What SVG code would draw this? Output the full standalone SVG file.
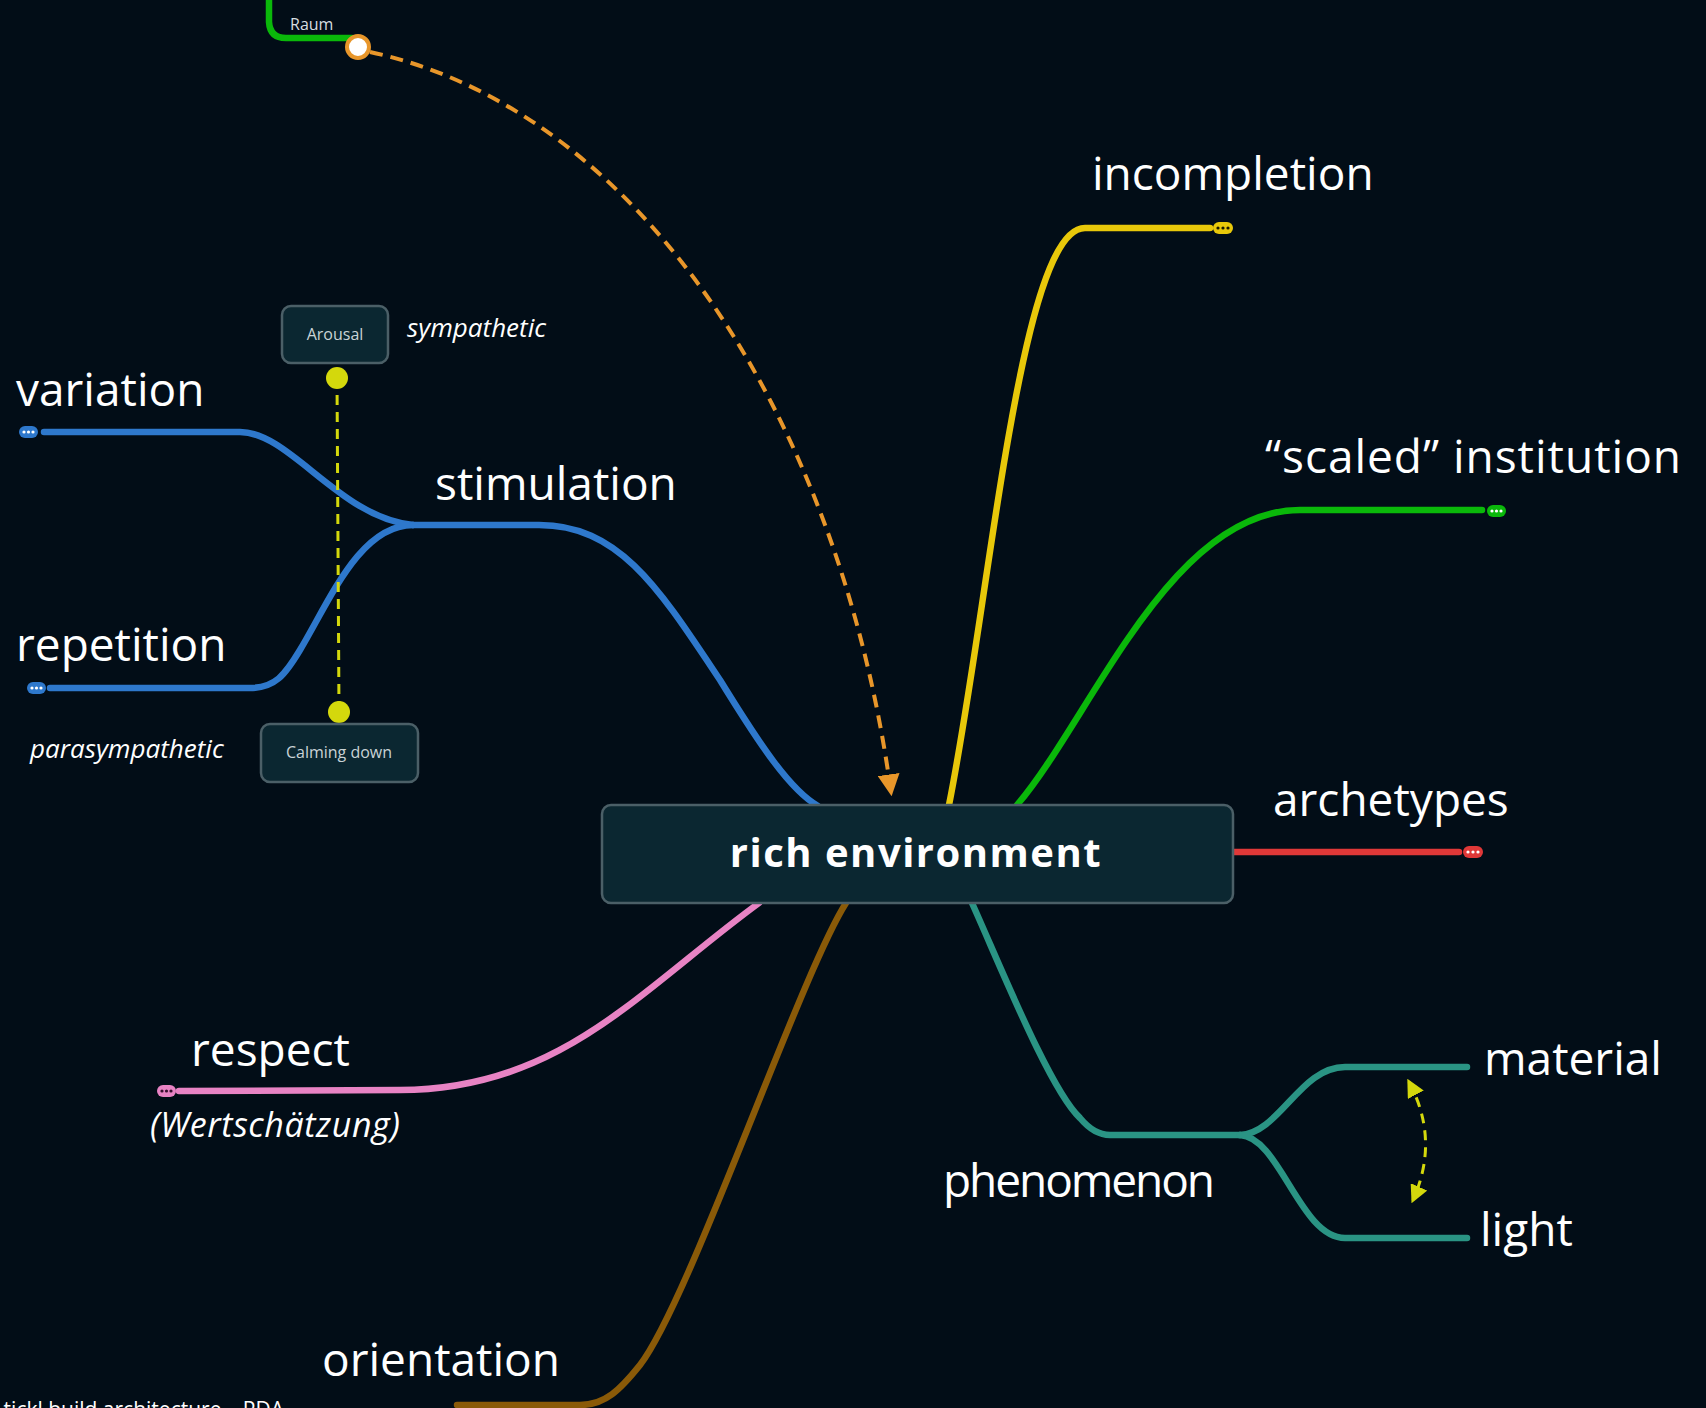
<svg xmlns="http://www.w3.org/2000/svg" width="1706" height="1408" viewBox="0 0 1706 1408">
  <style>
    .label { font-family: "Open Sans", "Noto Sans", "Liberation Sans", sans-serif; fill: #ffffff; font-size: 46px; }
    .note { font-family: "Open Sans", "Noto Sans", "Liberation Sans", sans-serif; fill: #ffffff; font-style: italic; }
    .small { font-family: "Open Sans", "Noto Sans", "Liberation Sans", sans-serif; fill: #c9d3d6; font-size: 16px; text-anchor: middle; }
    .branch { fill: none; stroke-width: 6.5; stroke-linecap: round; }
    .box { fill: #0b2731; stroke: #4b5f67; stroke-width: 2.5; }
    .dots { fill: #ffffff; }
  </style>
  <defs>
    <marker id="arrowOrange" viewBox="0 0 10 10" refX="8" refY="5" markerWidth="5.5" markerHeight="5.5" orient="auto" markerUnits="strokeWidth">
      <path d="M0,0 L10,5 L0,10 z" fill="#e8962a"/>
    </marker>
    <marker id="arrowYellow" viewBox="0 0 10 10" refX="8" refY="5" markerWidth="6" markerHeight="6" orient="auto-start-reverse" markerUnits="strokeWidth">
      <path d="M0,0 L10,5 L0,10 z" fill="#d4d80c"/>
    </marker>
  </defs>

  <rect width="1706" height="1408" fill="#020d17"/>

  <!-- connectors -->
  <g id="connectors">
    <!-- Raum branch (green, top) -->
    <path class="branch" d="M269,0 L269,22 Q270,38 286,38 L352,38" stroke="#0ab80a"/>
    <!-- stimulation (blue) -->
    <path class="branch" d="M44,432 L240,432 C290,432 340,518 413,525" stroke="#2e78cc"/>
    <path class="branch" d="M413,525 C360,525 330,600 300,650 C285,675 275,688 250,688 L50,688" stroke="#2e78cc"/>
    <path class="branch" d="M413,525 L539,525 C620,525 660,590 720,680 C760,745 790,790 818,806" stroke="#2e78cc"/>
    <!-- incompletion (yellow) -->
    <path class="branch" d="M949,805 C990,600 1020,228 1085,228 L1210,228" stroke="#e8c80a"/>
    <!-- scaled institution (green) -->
    <path class="branch" d="M1017,805 C1090,720 1170,510 1300,510 L1482,510" stroke="#0ab80a"/>
    <!-- archetypes (red) -->
    <path class="branch" d="M1233,852 L1459,852" stroke="#e03838"/>
    <!-- phenomenon (teal) -->
    <path class="branch" d="M972,903 C1000,965 1050,1090 1080,1118 C1090,1130 1100,1135 1110,1135 L1240,1135" stroke="#2a9484"/>
    <path class="branch" d="M1240,1135 C1280,1133 1300,1067 1345,1067 L1467,1067" stroke="#2a9484"/>
    <path class="branch" d="M1240,1135 C1280,1137 1300,1238 1345,1238 L1467,1238" stroke="#2a9484"/>
    <!-- respect (pink) -->
    <path class="branch" d="M759,903 C640,990 560,1090 400,1090 L179,1091" stroke="#e883c4"/>
    <!-- orientation (brown) -->
    <path class="branch" d="M846,903 C800,975 690,1300 640,1365 C620,1390 605,1405 580,1405 L457,1405" stroke="#8a5a08"/>

    <!-- relation: Raum -> rich environment -->
    <path d="M370,52 C640,110 840,420 891,792" fill="none" stroke="#e8962a" stroke-width="4" stroke-dasharray="13 8" marker-end="url(#arrowOrange)"/>
    <circle cx="358" cy="47" r="11" fill="#ffffff" stroke="#e8962a" stroke-width="4"/>

    <!-- relation: Arousal <-> Calming down -->
    <line x1="337" y1="378" x2="339" y2="712" stroke="#d4d80c" stroke-width="3" stroke-dasharray="10 7"/>
    <circle cx="337" cy="378" r="11" fill="#d4d80c"/>
    <circle cx="339" cy="712" r="11" fill="#d4d80c"/>

    <!-- relation: material <-> light -->
    <path d="M1409,1082 Q1440,1140 1413,1200" fill="none" stroke="#d4d80c" stroke-width="3" stroke-dasharray="10 7" marker-start="url(#arrowYellow)" marker-end="url(#arrowYellow)"/>
  </g>

  <!-- collapsed-branch indicators -->
  <g id="collapse-indicators">
    <g>
      <rect x="1213" y="222" width="20" height="12" rx="6" fill="#e8c80a"/>
      <circle cx="1218" cy="228" r="1.6" fill="#1a1a00"/><circle cx="1223" cy="228" r="1.6" fill="#1a1a00"/><circle cx="1228" cy="228" r="1.6" fill="#1a1a00"/>
    </g>
    <g>
      <rect x="1487" y="505" width="19" height="12" rx="6" fill="#0ab80a"/>
      <circle class="dots" cx="1492" cy="511" r="1.6"/><circle class="dots" cx="1496.5" cy="511" r="1.6"/><circle class="dots" cx="1501" cy="511" r="1.6"/>
    </g>
    <g>
      <rect x="1463" y="846" width="20" height="12" rx="6" fill="#e03838"/>
      <circle class="dots" cx="1468" cy="852" r="1.6"/><circle class="dots" cx="1473" cy="852" r="1.6"/><circle class="dots" cx="1478" cy="852" r="1.6"/>
    </g>
    <g>
      <rect x="19" y="426" width="19" height="12" rx="6" fill="#2e78cc"/>
      <circle class="dots" cx="24" cy="432" r="1.6"/><circle class="dots" cx="28.5" cy="432" r="1.6"/><circle class="dots" cx="33" cy="432" r="1.6"/>
    </g>
    <g>
      <rect x="27" y="682" width="19" height="12" rx="6" fill="#2e78cc"/>
      <circle class="dots" cx="32" cy="688" r="1.6"/><circle class="dots" cx="36.5" cy="688" r="1.6"/><circle class="dots" cx="41" cy="688" r="1.6"/>
    </g>
    <g>
      <rect x="157" y="1085" width="19" height="12" rx="6" fill="#e883c4"/>
      <circle cx="162" cy="1091" r="1.6" fill="#3a1030"/><circle cx="166.5" cy="1091" r="1.6" fill="#3a1030"/><circle cx="171" cy="1091" r="1.6" fill="#3a1030"/>
    </g>
  </g>

  <!-- central topic -->
  <g id="rich-environment">
    <rect class="box" x="602" y="805" width="631" height="98" rx="9"/>
    <text x="916" y="867" text-anchor="middle" font-family="'Open Sans', 'Noto Sans', 'Liberation Sans', sans-serif" font-weight="700" font-size="40" letter-spacing="1.5" fill="#ffffff">rich environment</text>
  </g>

  <g id="raum"><text x="290" y="30" font-family="'Open Sans', 'Noto Sans', 'Liberation Sans', sans-serif" font-size="16" fill="#d6dde0">Raum</text></g>

  <g id="incompletion"><text class="label" x="1092" y="190">incompletion</text></g>
  <g id="scaled-institution"><text class="label" x="1265" y="473" textLength="416">“scaled” institution</text></g>
  <g id="archetypes"><text class="label" x="1273" y="816">archetypes</text></g>
  <g id="phenomenon"><text class="label" x="943" y="1197" textLength="272">phenomenon</text></g>
  <g id="material"><text class="label" x="1484" y="1075">material</text></g>
  <g id="light"><text class="label" x="1480" y="1246">light</text></g>
  <g id="respect">
    <text class="label" x="191" y="1066">respect</text>
    <text class="note" x="150" y="1137" font-size="34" textLength="250">(Wertschätzung)</text>
  </g>
  <g id="orientation"><text class="label" x="322" y="1376">orientation</text></g>
  <g id="stimulation"><text class="label" x="435" y="500">stimulation</text></g>
  <g id="variation"><text class="label" x="16" y="406">variation</text></g>
  <g id="repetition"><text class="label" x="16" y="661">repetition</text></g>

  <g id="arousal">
    <rect class="box" x="282" y="306" width="106" height="57" rx="9"/>
    <text class="small" x="335" y="340">Arousal</text>
    <text class="note" x="407" y="337" font-size="26">sympathetic</text>
  </g>
  <g id="calming-down">
    <rect class="box" x="261" y="724" width="157" height="58" rx="9"/>
    <text class="small" x="339" y="758">Calming down</text>
    <text class="note" x="30" y="758" font-size="26">parasympathetic</text>
  </g>

  <!-- footer caption, running off the lower edge -->
  <text x="284" y="1417" text-anchor="end" font-family="'Open Sans', 'Noto Sans', 'Liberation Sans', sans-serif" font-size="21" fill="#ffffff">tickl build architecture – PDA</text>
</svg>
